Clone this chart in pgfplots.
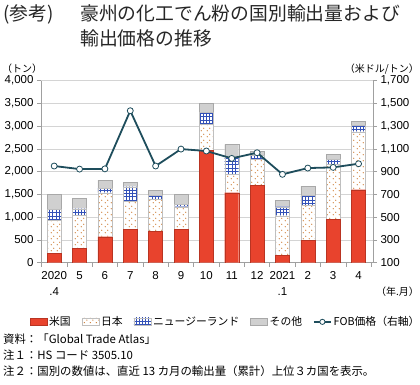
\documentclass[border=0pt]{standalone}
\usepackage{pgfplots}
\pgfplotsset{compat=1.18}
\usepackage{pgfplotstable}
\usetikzlibrary{patterns}
\usepackage{fontspec}
\setmainfont{Liberation Sans}
\newfontfamily\cjk{Noto Sans CJK JP}
\definecolor{usred}{HTML}{E8432D}
\definecolor{usredb}{HTML}{B93422}
\definecolor{jpdot}{HTML}{CC7A30}
\definecolor{nzblue}{HTML}{3351B8}
\definecolor{othgray}{HTML}{D0D0D0}
\definecolor{othedge}{HTML}{A8A8A8}
\definecolor{linec}{HTML}{1E4D5C}
\definecolor{gridc}{HTML}{D4D4D4}
\definecolor{axc}{HTML}{A0A0A0}
\pgfdeclarepatternformonly{sparsedots}{\pgfqpoint{0pt}{0pt}}{\pgfqpoint{5.5pt}{5.5pt}}{\pgfqpoint{5.5pt}{5.5pt}}{%
  \pgfpathcircle{\pgfqpoint{1.4pt}{1.4pt}}{0.7pt}%
  \pgfpathcircle{\pgfqpoint{4.1pt}{4.1pt}}{0.7pt}%
  \pgfusepath{fill}}
\pgfdeclarepatternformonly{nzgrid}{\pgfqpoint{-0.5pt}{-0.5pt}}{\pgfqpoint{4pt}{4pt}}{\pgfqpoint{3.2pt}{3.2pt}}{%
  \pgfsetlinewidth{0.75pt}%
  \pgfpathmoveto{\pgfqpoint{0pt}{1.6pt}}\pgfpathlineto{\pgfqpoint{3.2pt}{1.6pt}}%
  \pgfpathmoveto{\pgfqpoint{1.6pt}{0pt}}\pgfpathlineto{\pgfqpoint{1.6pt}{3.2pt}}%
  \pgfusepath{stroke}}
\pgfplotstableread{
x us jp nz ot price
0 205 733 234 330 950
1 308 732 147 220 923
2 571 967 103 176 925
3 733 608 329 103 1436
4 689 703 95 103 950
5 733 498 58 213 1099
6 2462 578 257 205 1082
7 1538 411 381 271 1017
8 1707 564 95 88 1067
9 161 872 198 139 877
10 484 769 220 212 932
11 960 1208 110 96 938
12 1604 1275 139 96 970
}\datatable
\begin{document}
\begin{tikzpicture}
\useasboundingbox (0,0) rectangle (420pt,-384pt);
% titles
\node[anchor=base west, inner sep=0pt, text=black!85] at (3pt,-20pt) {\cjk\fontsize{18.8}{20}\selectfont (参考)};
\node[anchor=base west, inner sep=0pt, text=black!85] at (80pt,-20pt) {\cjk\fontsize{18.8}{20}\selectfont 豪州の化工でん粉の国別輸出量および};
\node[anchor=base west, inner sep=0pt, text=black!85] at (80pt,-45pt) {\cjk\fontsize{18.8}{20}\selectfont 輸出価格の推移};
\node[anchor=base west, inner sep=0pt] at (2pt,-72pt) {\cjk\fontsize{10}{12}\selectfont （トン）};
\node[anchor=base east, inner sep=0pt] at (419pt,-72pt) {\cjk\fontsize{10}{12}\selectfont （米ドル/トン）};
\node[anchor=base east, inner sep=0pt] at (419pt,-295pt) {\cjk\fontsize{10}{12}\selectfont （年.月）};
% notes
\node[anchor=base west, inner sep=0pt] at (3pt,-343pt) {\cjk\fontsize{11.4}{13}\selectfont 資料：「Global Trade Atlas」};
\node[anchor=base west, inner sep=0pt] at (3pt,-359pt) {\cjk\fontsize{11.4}{13}\selectfont 注１：HS コード 3505.10};
\node[anchor=base west, inner sep=0pt] at (3pt,-375pt) {\cjk\fontsize{11.4}{13}\selectfont 注２：国別の数値は、直近 13 カ月の輸出量（累計）上位３カ国を表示。};
\begin{axis}[
  at={(41pt,-262.7pt)}, anchor=south west,
  width=332pt, height=182pt, scale only axis,
  xmin=-0.52, xmax=12.57,
  ymin=0, ymax=4000, ytick={0,500,...,4000},
  ybar stacked, bar width=14pt,
  axis y line*=left, axis x line*=bottom,
  axis line style={axc, line width=0.6pt},
  ymajorgrids, grid style={gridc, line width=0.6pt},
  xtick={0,...,12},
  xticklabels={{2020\\.4},5,6,7,8,9,10,11,12,{2021\\.1},2,3,4},
  xticklabel style={align=center, font=\fontsize{11.5}{16}\selectfont, yshift=-1pt},
  major x tick style={draw=none},
  minor xtick={-0.5,0.5,...,12.5},
  minor x tick style={axc, line width=0.6pt},
  minor tick length=4pt,
  major tick length=4pt,
  ytick style={axc, line width=0.6pt},
  tick align=outside,
  yticklabel style={font=\fontsize{11.5}{13}\selectfont},
  /pgf/number format/.cd, 1000 sep={,}, assume math mode=true, /pgfplots/.cd,
  legend columns=-1,
  legend style={draw=none, at={(0.556,-0.325)}, anchor=center, font=\cjk\fontsize{10.8}{12}\selectfont,
    /tikz/every even column/.append style={column sep=9pt}, inner sep=1pt},
  legend cell align=left,
  area legend,
  legend image code/.code={\draw[#1] (0pt,-3.5pt) rectangle (17pt,4pt);},
]
\addplot[fill=usred, draw=usredb, line width=0.4pt] table[x=x,y=us] {\datatable};
\addlegendentry{米国}
\addplot[fill=white, draw=gray!50, line width=0.4pt, postaction={pattern=sparsedots, pattern color=jpdot}] table[x=x,y=jp] {\datatable};
\addlegendentry{日本}
\addplot[fill=white, draw=gray!50, line width=0.4pt, postaction={pattern=nzgrid, pattern color=nzblue}] table[x=x,y=nz] {\datatable};
\addlegendentry{ニュージーランド}
\addplot[fill=othgray, draw=othedge, line width=0.4pt] table[x=x,y=ot] {\datatable};
\addlegendentry{その他}
\addlegendimage{legend image code/.code={\draw[linec, line width=1.6pt] (0pt,0pt) -- (17pt,0pt); \draw[linec, fill=white, line width=0.8pt] (8.5pt,0pt) circle (2.6pt);}}
\addlegendentry{FOB価格（右軸）}
\end{axis}
\begin{axis}[
  at={(41pt,-262.7pt)}, anchor=south west,
  width=332pt, height=182pt, scale only axis,
  xmin=-0.52, xmax=12.57,
  ymin=100, ymax=1700, ytick={100,300,...,1700},
  axis y line*=right, axis x line=none,
  axis line style={axc, line width=0.6pt},
  ytick style={axc, line width=0.6pt},
  major tick length=4pt,
  tick align=outside,
  yticklabel style={font=\fontsize{11.5}{13}\selectfont},
  /pgf/number format/.cd, 1000 sep={,}, assume math mode=true, /pgfplots/.cd,
]
\addplot[linec, line width=1.8pt, mark=*, mark size=3pt, mark options={fill=white, draw=linec, line width=0.8pt}] table[x=x,y=price] {\datatable};
\end{axis}
\end{tikzpicture}
\end{document}
